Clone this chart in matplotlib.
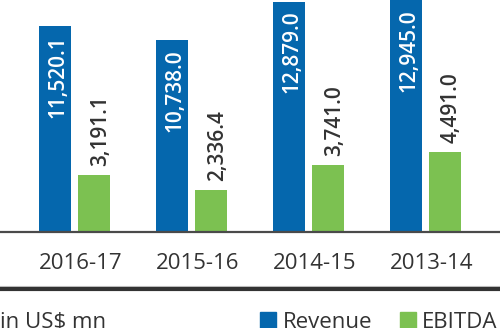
import matplotlib
matplotlib.use("Agg")
import matplotlib.pyplot as plt
from matplotlib.patches import Rectangle
from matplotlib.lines import Line2D
import numpy as np

plt.rcParams['font.family'] = ['Open Sans', 'DejaVu Sans']

years = ["2016-17", "2015-16", "2014-15", "2013-14"]
revenue = [11520.1, 10738.0, 12879.0, 12945.0]
ebitda = [3191.1, 2336.4, 3741.0, 4491.0]
series_names = ["Revenue", "EBITDA"]
unit_label = "in US$ mn"

BLUE = "#0567ad"
GREEN = "#7cc151"
TXT = "#333333"

W, H = 500, 328
fig = plt.figure(figsize=(W / 100, H / 100), dpi=100)
base_px = 232
ax = fig.add_axes([0, (H - base_px) / H, 1, base_px / H])

x = np.arange(len(years))
bw = 0.27
off = 0.169
rb = ax.bar(x - off, revenue, bw, color=BLUE, zorder=2)
eb = ax.bar(x + off, ebitda, bw, color=GREEN, zorder=2)

ax.set_xlim(-74.5 / 117, (W - 74.5) / 117)
ax.set_ylim(0, 12970)
for s in ax.spines.values():
    s.set_visible(False)
ax.set_xticks([])
ax.set_yticks([])
ax.axhline(0, color="#4a4a4a", lw=1.6, zorder=3, clip_on=False)

for i, v in enumerate(revenue):
    ax.annotate(f"{v:,.1f}", (x[i] - off, v), xytext=(3, -9), textcoords="offset pixels",
                rotation=90, ha="center", va="top", color="white",
                fontsize=15, fontweight="semibold", zorder=4)
for i, v in enumerate(ebitda):
    ax.annotate(f"{v:,.1f}", (x[i] + off, v), xytext=(6, 9), textcoords="offset pixels",
                rotation=90, ha="center", va="bottom", color=TXT,
                fontsize=15, fontweight="semibold", zorder=4)

for i, yl in enumerate(years):
    ax.text(x[i] - off - bw / 2, -0.134, yl, transform=ax.get_xaxis_transform(),
            ha="left", va="center", fontsize=16, color=TXT)

# separator lines
fig.add_artist(Line2D([0, 1], [1 - 285.5 / H] * 2, color="#c8c8c8", lw=0.8))
fig.add_artist(Line2D([0, 1], [1 - 289 / H] * 2, color="#333333", lw=3))

fig.text(0.0, 0.0, unit_label, ha="left", va="baseline", fontsize=16, color=TXT)

leg = [(260, 283, BLUE), (400, 422, GREEN)]
for (sx, tx, c), name in zip(leg, series_names):
    fig.add_artist(Rectangle((sx / W, 0), 16 / W, 16 / H, color=c, transform=fig.transFigure))
    fig.text(tx / W, 0.0, name, ha="left", va="baseline", fontsize=16, color=TXT)

fig.savefig("out.png", dpi=100)
